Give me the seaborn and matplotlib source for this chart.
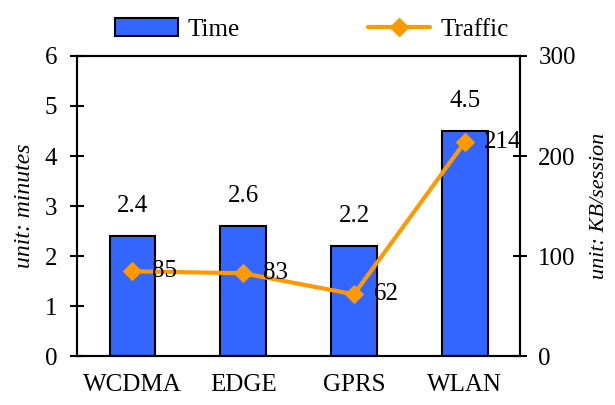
import pandas as pd
import matplotlib
matplotlib.use("Agg")
import matplotlib.pyplot as plt
import seaborn as sns
from matplotlib.patches import Patch
from matplotlib.lines import Line2D

networks = ["WCDMA", "EDGE", "GPRS", "WLAN"]
time_minutes = [2.4, 2.6, 2.2, 4.5]
traffic_kb = [85, 83, 62, 214]

df = pd.DataFrame({"network": networks, "time": time_minutes, "traffic": traffic_kb})

sns.set_style("white")
plt.rcParams["font.family"] = ["Liberation Serif", "DejaVu Serif"]
plt.rcParams["font.size"] = 18
plt.rcParams["text.color"] = "black"
plt.rcParams["axes.labelcolor"] = "black"
plt.rcParams["xtick.color"] = "black"
plt.rcParams["ytick.color"] = "black"

bar_color = "#3366FF"
line_color = "#FF9900"
fs = 18

fig, ax = plt.subplots(figsize=(6.15, 4.05), dpi=100)
fig.subplots_adjust(left=0.125, right=0.846, top=0.862, bottom=0.12)

sns.barplot(data=df, x="network", y="time", ax=ax, color=bar_color,
            edgecolor="black", linewidth=1.5, width=0.41, saturation=1)
ax.set_ylim(0, 6)
ax.set_xlim(-0.5, 3.5)
ax.set_xlabel("")
ax.set_ylabel("unit: minutes", fontstyle="italic", fontsize=17, labelpad=7)

ax2 = ax.twinx()
sns.lineplot(data=df, x="network", y="traffic", ax=ax2, color=line_color,
             linewidth=3, marker="D", markersize=9, markeredgecolor=line_color)
ax2.set_ylim(0, 300)
ax2.set_yticks([0, 100, 200, 300])
ax2.set_ylabel("unit: KB/session", fontstyle="italic", fontsize=16, labelpad=10)
ax2.set_xlabel("")

for i, v in enumerate(time_minutes):
    ax.annotate(f"{v}", (i, v), xytext=(0, 14), textcoords="offset points",
                ha="center", va="bottom", fontsize=fs)
for i, v in enumerate(traffic_kb):
    ax2.annotate(f"{v}", (i, v), xytext=(14, 0), textcoords="offset points",
                 ha="left", va="center", fontsize=fs)

# category boundary ticks on the x axis
ax.set_xticks([0, 1, 2, 3])
ax.set_xticklabels(networks)
ax.set_xticks([0.5, 1.5, 2.5], minor=True)
ax.tick_params(axis="x", which="major", length=0, pad=13, labelsize=fs)
ax.tick_params(axis="x", which="minor", direction="in", length=6, width=1.5)
ax.tick_params(axis="y", direction="inout", length=10, width=1.5, labelsize=fs, left=True, pad=9)
ax2.tick_params(axis="y", direction="inout", length=10, width=1.5, labelsize=fs, right=True, pad=8)

for a in (ax, ax2):
    for s in a.spines.values():
        s.set_linewidth(1.5)
        s.set_color("black")

handles = [Patch(facecolor=bar_color, edgecolor="black", linewidth=1.5, label="Time"),
           Line2D([], [], color=line_color, linewidth=3, marker="D", markersize=9, label="Traffic")]
fig.legend(handles=handles, loc="upper center", bbox_to_anchor=(0.507, 1.01), ncol=2,
           frameon=False, fontsize=fs, columnspacing=5.1, handlelength=2.5, handletextpad=0.4)

fig.savefig("out.png", dpi=100)
